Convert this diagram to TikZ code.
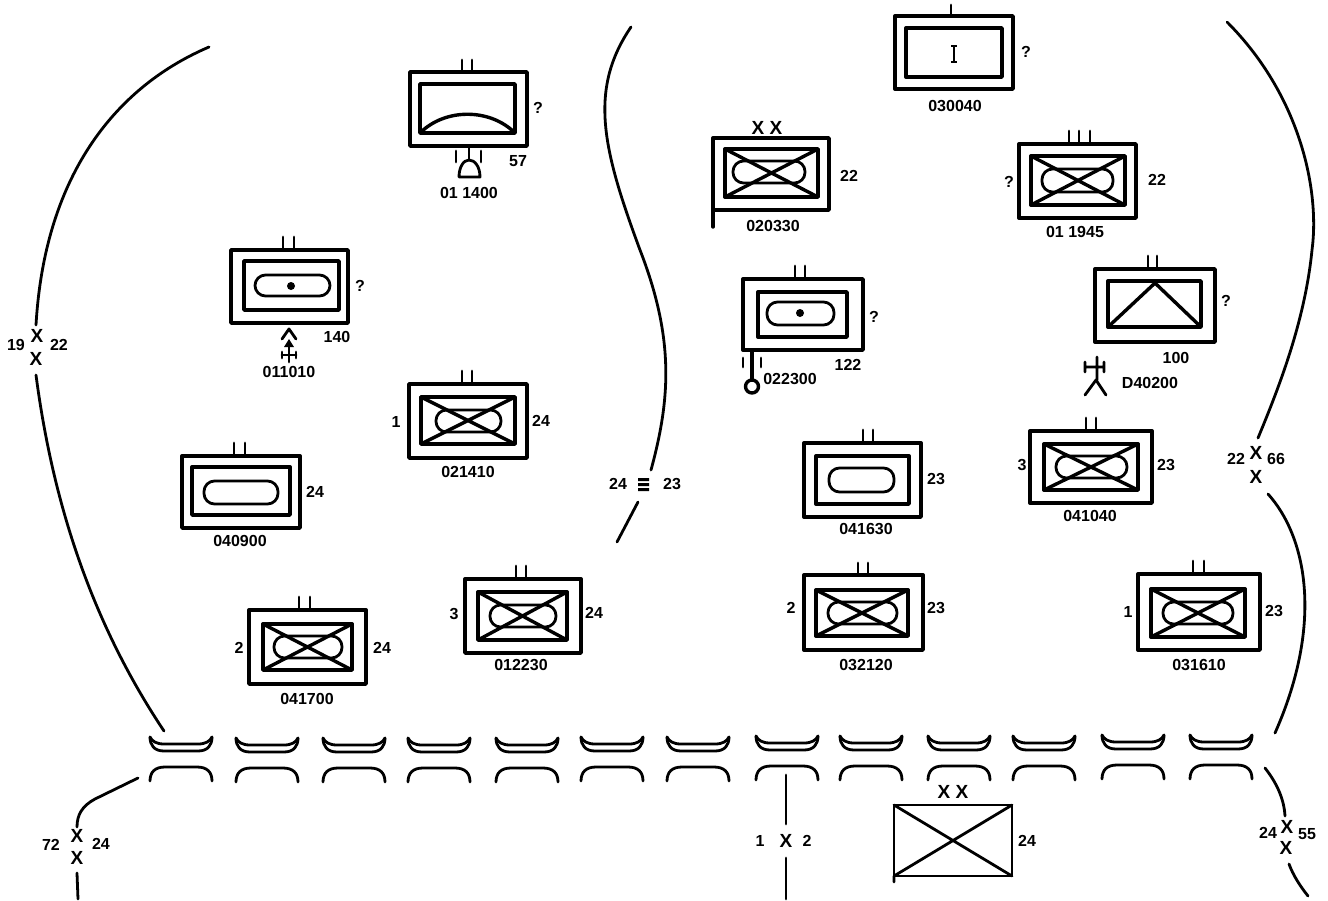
\documentclass[tikz,border=0pt]{standalone}
\usepackage{fontspec}
\setmainfont{Liberation Sans}
\tikzset{
  x=1pt,y=-1pt,
  heavy/.style={line width=3.4pt,line cap=round,line join=round},
  medium/.style={line width=2.8pt,line cap=round,line join=round},
  boundary/.style={line width=2.8pt,line cap=round},
  lbl/.style={font=\fontsize{16}{17}\selectfont\bfseries,inner sep=0pt},
  markx/.style={font=\fontsize{19}{19}\selectfont\bfseries,inner sep=0pt},
}
% outer frame
\newcommand{\frameunit}[4]{\draw[heavy] (#1,#2) rectangle (#3,#4);}
% inner frame
\newcommand{\innerunit}[4]{\draw[heavy] (#1,#2) rectangle (#3,#4);}
% inner frame with X
\newcommand{\innerx}[4]{\draw[heavy] (#1,#2) rectangle (#3,#4);
  \draw[heavy] (#1,#2) -- (#3,#4) (#1,#4) -- (#3,#2);}
% oval: x1 y1 x2 y2
\newcommand{\ovalshape}[4]{\draw[medium,rounded corners=10.5pt] (#1,#2) rectangle (#3,#4);}
% two ticks
\newcommand{\ticks}[4]{\draw[medium] (#1,#3) -- (#1,#4) (#2,#3) -- (#2,#4);}
% river pair: left x, top offset
\newcommand{\crossing}[2]{%
  \draw[medium] (#1,737+#2) .. controls (#1,745+#2) and (#1+4,751+#2) .. (#1+14,751+#2) -- (#1+48,751+#2) .. controls (#1+58,751+#2) and (#1+62,745+#2) .. (#1+62,737+#2);
  \draw[medium] (#1,737+#2) .. controls (#1+2,741+#2) and (#1+6,744+#2) .. (#1+14,744+#2) -- (#1+48,744+#2) .. controls (#1+56,744+#2) and (#1+60,741+#2) .. (#1+62,737+#2);
  \draw[medium] (#1,781+#2) .. controls (#1,772+#2) and (#1+5,767+#2) .. (#1+15,767+#2) -- (#1+47,767+#2) .. controls (#1+57,767+#2) and (#1+62,772+#2) .. (#1+62,781+#2);
}
\begin{document}
\begin{tikzpicture}
\useasboundingbox[fill=white] (0,0) rectangle (1328,900);

% boundaries
\draw[boundary] (209,47) .. controls (120,85) and (45,170) .. (36,325);
\draw[boundary] (36,375) .. controls (55,520) and (100,635) .. (164,731);
\draw[boundary] (631,27) .. controls (588,90) and (603,150) .. (640,250) .. controls (675,340) and (670,400) .. (651,470);
\draw[boundary] (638,502) -- (617,542);
\draw[boundary] (1227,22) .. controls (1300,95) and (1320,190) .. (1312,250) .. controls (1305,320) and (1280,385) .. (1258,438);
\draw[boundary] (1268,494) .. controls (1305,535) and (1325,620) .. (1275,733);
\draw[boundary] (138,778) -- (95,799) .. controls (82,806) and (77,815) .. (77,827);
\draw[boundary] (77,873) -- (78,899);
\draw[boundary] (786,775) -- (786,824);
\draw[boundary] (786,858) -- (786,899);
\draw[boundary] (1265,768) .. controls (1276,782) and (1284,798) .. (1285,816);
\draw[boundary] (1289,864) .. controls (1293,875) and (1300,886) .. (1308,896);

% crossings
\crossing{150}{0}\crossing{236}{1}\crossing{323}{1}\crossing{408}{1}\crossing{496}{1}
\crossing{581}{0}\crossing{667}{0}\crossing{756}{-1}\crossing{840}{-1}\crossing{928}{-1}
\crossing{1013}{-1}\crossing{1102}{-2}\crossing{1190}{-2}

% 011400
\frameunit{410}{72}{527}{146}\innerunit{420}{84}{515}{133}\ticks{462}{472}{60}{72}
\draw[heavy] (420,133) .. controls (445,108) and (490,108) .. (515,133);
\draw[medium] (469,147) -- (469,160) (456,151) -- (456,162) (481,151) -- (481,162);
\draw[medium] (459,177) -- (480,177) .. controls (480,167) and (475,160) .. (469,160) .. controls (463,160) and (459,168) .. (459,177);
\node[lbl] (q1) at (538,108) {?};
\node[lbl] (n1) at (518,161) {57};
\node[lbl] (d1) at (469,193) {01 1400};

% 011010
\frameunit{231}{250}{348}{323}\innerunit{244}{261}{339}{310}\ovalshape{255}{275}{330}{296}\ticks{283}{294}{237}{250}
\fill (291,286) circle (4pt);
\node[lbl] (q2) at (360,286) {?};
\node[lbl] (n2) at (337,337) {140};
\draw[medium] (282,339) -- (289,329) -- (296,339);
\draw[medium] (289,342) -- (289,362) (282,352) -- (282,358) (296,352) -- (296,358) (282,355) -- (296,355);
\fill (289,339) -- (294,347) -- (284,347) -- cycle;
\node[lbl] (d2) at (289,372) {011010};

% 021410
\frameunit{409}{384}{527}{458}\innerx{421}{397}{515}{444}\ovalshape{436}{410}{501}{432}\ticks{462}{472}{371}{384}
\node[lbl] (s3) at (396,422) {1};
\node[lbl] (n3) at (541,421) {24};
\node[lbl] (d3) at (468,472) {021410};

% 040900
\frameunit{182}{456}{300}{528}\innerunit{192}{467}{290}{515}\ovalshape{204}{481}{278}{504}\ticks{234}{245}{443}{456}
\node[lbl] (n4) at (315,492) {24};
\node[lbl] (d4) at (240,541) {040900};

% 041700
\frameunit{249}{610}{366}{684}\innerx{263}{624}{352}{670}\ovalshape{274}{636}{342}{658}\ticks{299}{310}{597}{610}
\node[lbl] (s5) at (239,648) {2};
\node[lbl] (n5) at (382,648) {24};
\node[lbl] (d5) at (307,699) {041700};

% 012230
\frameunit{465}{579}{581}{653}\innerx{478}{592}{567}{640}\ovalshape{490}{605}{556}{627}\ticks{516}{526}{566}{579}
\node[lbl] (s6) at (454,614) {3};
\node[lbl] (n6) at (594,613) {24};
\node[lbl] (d6) at (521,665) {012230};

% 020330
\frameunit{713}{138}{829}{210}\innerx{725}{149}{818}{197}\ovalshape{733}{161}{805}{183}
\draw[heavy] (713,210) -- (713,227);
\node[markx] (x7) at (767,128) {X X};
\node[lbl] (n7) at (849,176) {22};
\node[lbl] (d7) at (773,226) {020330};

% 011945
\frameunit{1019}{144}{1136}{218}\innerx{1031}{156}{1125}{205}\ovalshape{1042}{169}{1113}{192}\ticks{1069}{1079}{131}{144}\draw[medium] (1090,131) -- (1090,144);
\node[lbl] (q8) at (1009,182) {?};
\node[lbl] (n8) at (1157,180) {22};
\node[lbl] (d8) at (1075,232) {01 1945};

% 030040
\frameunit{895}{16}{1013}{89}\innerunit{906}{28}{1002}{77}\draw[medium] (951,5) -- (951,16);
\draw[line width=1.4pt] (954,46) -- (954,62) (951,46) -- (957,46) (951,62) -- (957,62);
\node[lbl] (q9) at (1026,52) {?};
\node[lbl] (d9) at (955,106) {030040};

% 022300
\frameunit{743}{279}{863}{350}\innerunit{758}{292}{847}{337}\ovalshape{767}{302}{834}{325}\ticks{795}{805}{266}{279}
\fill (800,313) circle (4pt);
\draw[heavy] (752,350) -- (752,380);
\draw[heavy] (752,386.5) circle (6.5pt);
\draw[medium] (743,358) -- (743,367) (761,358) -- (761,367);
\node[lbl] (q10) at (874,317) {?};
\node[lbl] (n10) at (848,365) {122};
\node[lbl] (d10) at (790,379) {022300};

% 100
\frameunit{1095}{269}{1215}{342}\innerunit{1108}{281}{1201}{327}\ticks{1148}{1157}{256}{269}
\draw[heavy] (1108,327) -- (1155,283) -- (1201,327);
\node[lbl] (q11) at (1226,301) {?};
\node[lbl] (n11) at (1176,358) {100};
\draw[medium] (1097,357) -- (1097,380) (1085,362) -- (1085,372) (1104,362) -- (1104,372) (1085,367) -- (1104,367) (1096,380) -- (1085,395) (1096,380) -- (1106,395);
\node[lbl] (d11) at (1150,383) {D40200};

% 041630
\frameunit{804}{443}{921}{517}\innerunit{816}{456}{909}{504}\ovalshape{829}{468}{894}{492}\ticks{863}{873}{430}{443}
\node[lbl] (n12) at (936,479) {23};
\node[lbl] (d12) at (866,529) {041630};

% 041040
\frameunit{1030}{431}{1152}{503}\innerx{1044}{444}{1138}{490}\ovalshape{1056}{456}{1127}{478}\ticks{1086}{1096}{418}{431}
\node[lbl] (s13) at (1022,465) {3};
\node[lbl] (n13) at (1166,465) {23};
\node[lbl] (d13) at (1090,516) {041040};

% 032120
\frameunit{804}{575}{923}{650}\innerx{816}{590}{908}{636}\ovalshape{828}{602}{897}{624}\ticks{858}{868}{563}{575}
\node[lbl] (s14) at (791,608) {2};
\node[lbl] (n14) at (936,608) {23};
\node[lbl] (d14) at (866,665) {032120};

% 031610
\frameunit{1138}{574}{1260}{650}\innerx{1151}{589}{1245}{637}\ovalshape{1163}{602}{1233}{624}\ticks{1193}{1204}{561}{574}
\node[lbl] (s15) at (1128,612) {1};
\node[lbl] (n15) at (1274,611) {23};
\node[lbl] (d15) at (1199,665) {031610};

% bottom box
\draw[medium] (894,805) rectangle (1012,876);
\draw[medium] (894,805) -- (1012,876) (894,876) -- (1012,805) (894,876) -- (894,882);
\node[markx] (x16) at (953,792) {X X};
\node[lbl] (n16) at (1027,841) {24};

% boundary marks
\node[lbl] (b1a) at (16,345) {19};
\node[markx] (b1b) at (37,336) {X};
\node[markx] (b1c) at (36,359) {X};
\node[lbl] (b1d) at (59,345) {22};

\node[lbl] (b2a) at (618,484) {24};
\fill (638,478) rectangle (649,481) (638,483) rectangle (649,486) (638,488) rectangle (649,491);
\node[lbl] (b2d) at (672,484) {23};

\node[lbl] (b3a) at (1236,459) {22};
\node[markx] (b3b) at (1256,453) {X};
\node[markx] (b3c) at (1256,477) {X};
\node[lbl] (b3d) at (1276,459) {66};

\node[lbl] (b4a) at (51,845) {72};
\node[markx] (b4b) at (77,836) {X};
\node[markx] (b4c) at (77,858) {X};
\node[lbl] (b4d) at (101,844) {24};

\node[lbl] (b5a) at (760,841) {1};
\node[markx] (b5b) at (786,841) {X};
\node[lbl] (b5c) at (807,841) {2};

\node[lbl] (b6a) at (1268,833) {24};
\node[markx] (b6b) at (1287,827) {X};
\node[markx] (b6c) at (1286,848) {X};
\node[lbl] (b6d) at (1307,834) {55};
\end{tikzpicture}
\end{document}
